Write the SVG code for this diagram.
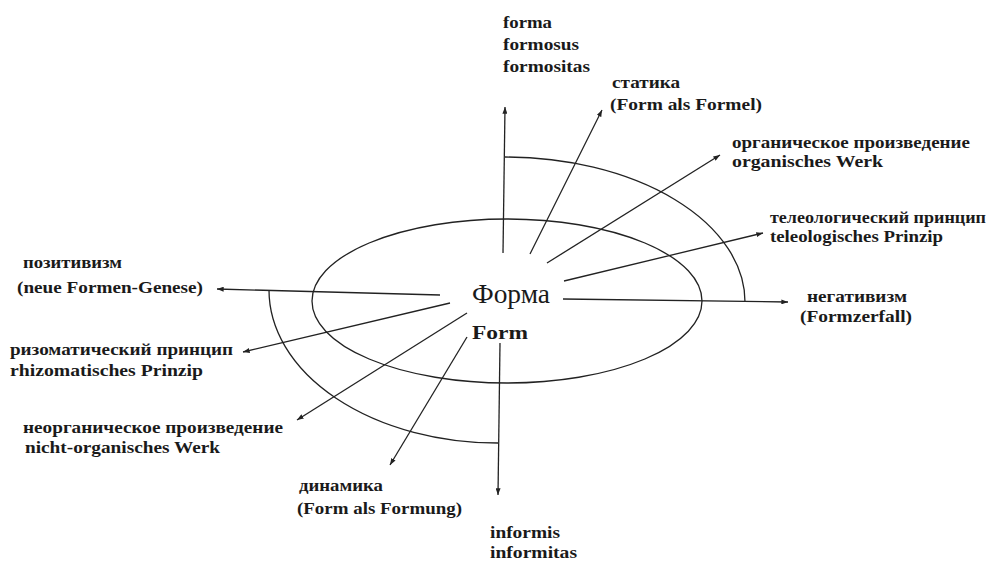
<svg xmlns="http://www.w3.org/2000/svg" width="988" height="561" viewBox="0 0 988 561">
<style>
.lbl{font-family:"Liberation Serif","Times New Roman",serif;font-weight:bold;font-size:17px;fill:#1a1a1a}
.c{fill:none;stroke:#222;stroke-width:1.3}
.a{fill:none;stroke:#222;stroke-width:1.3;marker-end:url(#ah)}
</style>
<defs>
<marker id="ah" viewBox="0 0 8 6" refX="8" refY="3" markerWidth="7" markerHeight="5" markerUnits="userSpaceOnUse" orient="auto">
<path d="M0,0 L8,3 L0,6 z" fill="#222"/>
</marker>
</defs>
<rect width="988" height="561" fill="#fff"/>

<g id="center">
<ellipse class="c" cx="507" cy="301" rx="195" ry="82"/>
<text x="472" y="303" textLength="78" lengthAdjust="spacingAndGlyphs" style="font-family:'Liberation Serif',serif;font-size:27px;fill:#1a1a1a">Форма</text>
<text x="472" y="339" textLength="56" lengthAdjust="spacingAndGlyphs" style="font-family:'Liberation Serif',serif;font-weight:bold;font-size:19px;fill:#1a1a1a">Form</text>
</g>

<g id="arcs">
<path class="c" d="M505,157 A240,145 0 0 1 745,302"/>
<path class="c" d="M269,290 A229,153 0 0 0 498,443"/>
</g>

<g id="connectors">
<line class="a" x1="503" y1="253" x2="505" y2="107"/>
<line class="a" x1="530" y1="254" x2="602" y2="110"/>
<line class="a" x1="547" y1="263" x2="720" y2="155"/>
<line class="a" x1="564" y1="281" x2="763" y2="233"/>
<line class="a" x1="563" y1="299" x2="788" y2="302"/>
<line class="a" x1="440" y1="295" x2="217" y2="289"/>
<line class="a" x1="450" y1="303" x2="243" y2="352"/>
<line class="a" x1="467" y1="313" x2="297" y2="420"/>
<line class="a" x1="467" y1="337" x2="390" y2="465"/>
<line class="a" x1="500" y1="343" x2="498" y2="495"/>
</g>

<g id="n-forma">
<text class="lbl" x="503" y="28" textLength="49" lengthAdjust="spacingAndGlyphs">forma</text>
<text class="lbl" x="503" y="50" textLength="76" lengthAdjust="spacingAndGlyphs">formosus</text>
<text class="lbl" x="503" y="72" textLength="87" lengthAdjust="spacingAndGlyphs">formositas</text>
</g>
<g id="n-statika">
<text class="lbl" x="612" y="88" textLength="68" lengthAdjust="spacingAndGlyphs">статика</text>
<text class="lbl" x="610" y="110" textLength="152" lengthAdjust="spacingAndGlyphs">(Form als Formel)</text>
</g>
<g id="n-organic">
<text class="lbl" x="732" y="148" textLength="238" lengthAdjust="spacingAndGlyphs">органическое произведение</text>
<text class="lbl" x="732" y="167" textLength="151" lengthAdjust="spacingAndGlyphs">organisches  Werk</text>
</g>
<g id="n-teleo">
<text class="lbl" x="770" y="223" textLength="216" lengthAdjust="spacingAndGlyphs">телеологический принцип</text>
<text class="lbl" x="770" y="242" textLength="173" lengthAdjust="spacingAndGlyphs">teleologisches Prinzip</text>
</g>
<g id="n-negativ">
<text class="lbl" x="807" y="302" textLength="100" lengthAdjust="spacingAndGlyphs">негативизм</text>
<text class="lbl" x="800" y="322" textLength="112" lengthAdjust="spacingAndGlyphs">(Formzerfall)</text>
</g>
<g id="n-positiv">
<text class="lbl" x="23" y="268" textLength="99" lengthAdjust="spacingAndGlyphs">позитивизм</text>
<text class="lbl" x="17" y="293" textLength="186" lengthAdjust="spacingAndGlyphs">(neue Formen-Genese)</text>
</g>
<g id="n-rhizom">
<text class="lbl" x="10" y="355" textLength="223" lengthAdjust="spacingAndGlyphs">ризоматический принцип</text>
<text class="lbl" x="10" y="376" textLength="193" lengthAdjust="spacingAndGlyphs">rhizomatisches  Prinzip</text>
</g>
<g id="n-inorganic">
<text class="lbl" x="23" y="433" textLength="260" lengthAdjust="spacingAndGlyphs">неорганическое произведение</text>
<text class="lbl" x="25" y="453" textLength="195" lengthAdjust="spacingAndGlyphs">nicht-organisches Werk</text>
</g>
<g id="n-dynamika">
<text class="lbl" x="299" y="491" textLength="84" lengthAdjust="spacingAndGlyphs">динамика</text>
<text class="lbl" x="297" y="514" textLength="165" lengthAdjust="spacingAndGlyphs">(Form als Formung)</text>
</g>
<g id="n-informis">
<text class="lbl" x="490" y="538" textLength="70" lengthAdjust="spacingAndGlyphs">informis</text>
<text class="lbl" x="490" y="558" textLength="87" lengthAdjust="spacingAndGlyphs">informitas</text>
</g>
</svg>
